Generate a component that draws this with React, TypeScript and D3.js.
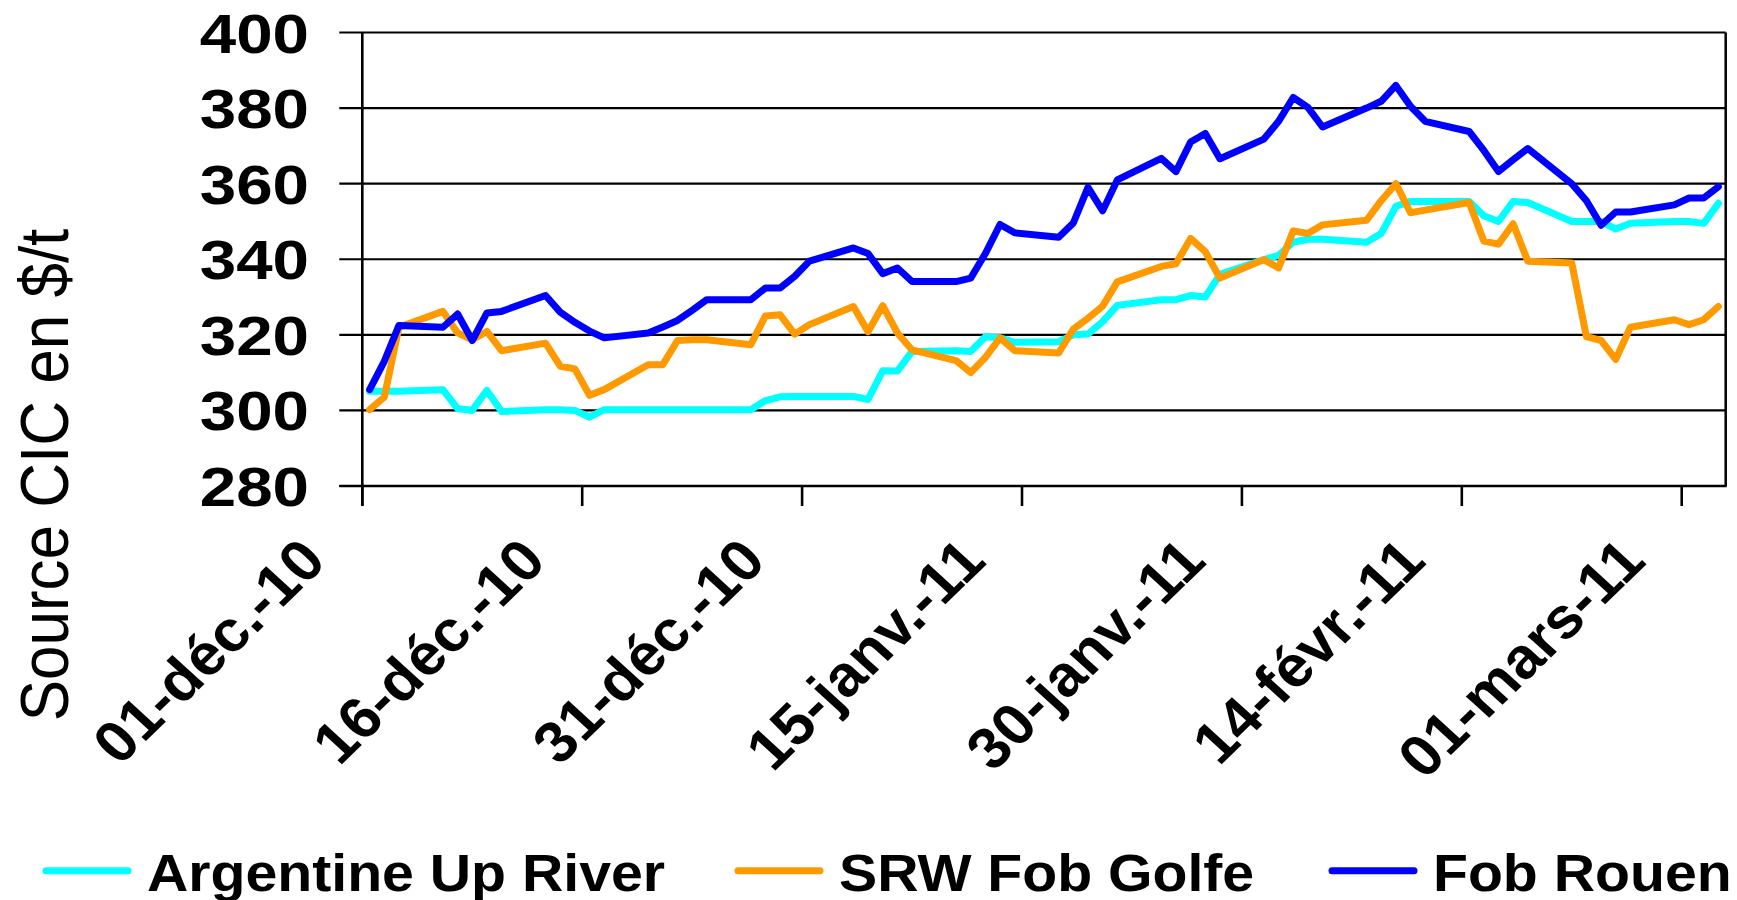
import React from "react";
import * as d3 from "d3";

// Business days (points drawn at the middle of each day)
const dates = [
  "2010-12-01","2010-12-02","2010-12-03","2010-12-06","2010-12-07","2010-12-08","2010-12-09","2010-12-10",
  "2010-12-13","2010-12-14","2010-12-15","2010-12-16","2010-12-17","2010-12-20","2010-12-21","2010-12-22",
  "2010-12-23","2010-12-24","2010-12-27","2010-12-28","2010-12-29","2010-12-30","2010-12-31",
  "2011-01-03","2011-01-04","2011-01-05","2011-01-06","2011-01-07","2011-01-10","2011-01-11","2011-01-12",
  "2011-01-13","2011-01-14","2011-01-17","2011-01-18","2011-01-19","2011-01-20","2011-01-21","2011-01-24",
  "2011-01-25","2011-01-26","2011-01-27","2011-01-28","2011-01-31",
  "2011-02-01","2011-02-02","2011-02-03","2011-02-04","2011-02-07","2011-02-08","2011-02-09","2011-02-10",
  "2011-02-11","2011-02-14","2011-02-15","2011-02-16","2011-02-17","2011-02-18","2011-02-21","2011-02-22",
  "2011-02-23","2011-02-24","2011-02-25","2011-02-28",
  "2011-03-01","2011-03-02","2011-03-03",
];

const argentine = [
  305.1, 305.1, 305.1, 305.5, 300.5, 300.0, 305.3, 299.7,
  300.2, 300.2, 300.0, 298.2, 300.2, 300.2, 300.2, 300.2,
  300.2, 300.2, 300.2, 302.6, 303.6, 303.7, 303.7,
  303.7, 302.9, 310.5, 310.4, 315.6, 315.8, 315.6, 319.5,
  319.2, 318.0, 318.2, 320.0, 320.2, 323.5, 327.8, 329.3,
  329.3, 330.4, 330.0, 336.0, 339.9,
  341.0, 344.5, 345.3, 345.3, 344.5, 346.8, 354.0, 355.3,
  355.3, 355.3, 351.5, 350.0, 355.3, 355.0, 350.0, 350.0,
  350.0, 348.0, 349.5, 350.0,
  350.0, 349.5, 354.8,
];

const srw = [
  300.2, 303.5, 322.0, 326.2, 320.5, 318.7, 320.9, 315.8,
  317.8, 311.7, 311.0, 304.0, 305.5, 312.1, 312.1, 318.5,
  318.7, 318.7, 317.4, 325.0, 325.3, 320.2, 322.7,
  327.5, 320.8, 327.7, 320.5, 316.0, 313.2, 310.0, 314.0,
  319.2, 315.8, 315.2, 321.5, 324.4, 327.6, 334.0, 338.1,
  338.8, 345.5, 342.0, 335.0, 339.9,
  337.7, 347.5, 346.8, 349.1, 350.3, 355.5, 360.0, 352.3,
  353.0, 355.0, 344.8, 344.0, 349.4, 339.5, 339.0, 319.5,
  318.5, 313.5, 322.0, 324.0,
  322.7, 324.0, 327.5,
];

const rouen = [
  305.5, 313.0, 322.5, 322.0, 325.5, 318.5, 325.8, 326.2,
  330.4, 326.0, 323.3, 321.0, 319.2, 320.5, 322.1, 323.8,
  326.5, 329.3, 329.3, 332.4, 332.4, 335.5, 339.5,
  343.0, 341.5, 336.2, 337.7, 334.1, 334.1, 335.0, 341.5,
  349.2, 347.0, 345.8, 349.6, 359.0, 352.8, 361.0, 366.7,
  363.2, 371.0, 373.3, 366.6, 371.8,
  376.5, 382.8, 380.2, 375.0, 380.0, 381.8, 386.0, 380.5,
  376.5, 373.8, 368.8, 363.2, 366.3, 369.3, 360.0, 355.5,
  349.0, 352.5, 352.5, 354.4,
  356.2, 356.2, 359.2,
];

const yTicks = [280, 300, 320, 340, 360, 380, 400];
const xTickDates = ["2010-12-01", "2010-12-16", "2010-12-31", "2011-01-15", "2011-01-30", "2011-02-14", "2011-03-01"];
const xTickLabels = ["01-déc.-10", "16-déc.-10", "31-déc.-10", "15-janv.-11", "30-janv.-11", "14-févr.-11", "01-mars-11"];
const seriesNames = ["Argentine Up River", "SRW Fob Golfe", "Fob Rouen"];
const seriesColors = ["#00FFFF", "#FF9900", "#0000FF"];
const seriesValues = [argentine, srw, rouen];
const axisStart = "2010-12-01";
const axisEnd = "2011-03-04";
const yTitle = "Source CIC en $/t";

export default function App() {
  const W = 1737, H = 900;
  const left = 362.3, right = 1725.7, top = 32.5, bottom = 486;
  const parse = d3.utcParse("%Y-%m-%d");
  const x = d3.scaleUtc().domain([parse(axisStart)!, parse(axisEnd)!]).range([left, right]);
  const y = d3.scaleLinear().domain([280, 400]).range([bottom, top]);
  const mid = (s: string) => d3.utcHour.offset(parse(s)!, 12);
  const line = d3.line<number>()
    .x((_, i) => x(mid(dates[i])))
    .y((v) => y(v));

  const font = "'Liberation Sans', Arial, sans-serif";
  const legendStarts = [46, 738, 1332];

  return (
    <svg width={W} height={H} style={{ position: "absolute", left: 0, top: 0, display: "block", background: "#fff" }}>
      <rect x={0} y={0} width={W} height={H} fill="#fff" />
      {/* gridlines */}
      {yTicks.map((t) => (
        <line key={"g" + t} x1={left - 23} x2={right} y1={y(t)} y2={y(t)} stroke="#000" strokeWidth={2.2} />
      ))}
      {/* right border */}
      <line x1={right} x2={right} y1={top} y2={bottom} stroke="#000" strokeWidth={2.5} />
      {/* y axis */}
      <line x1={left} x2={left} y1={top} y2={bottom + 20} stroke="#000" strokeWidth={2.6} />
      {/* x axis */}
      <line x1={left - 23} x2={right + 1} y1={bottom} y2={bottom} stroke="#000" strokeWidth={2.6} />
      {xTickDates.map((d) => (
        <line key={"xt" + d} x1={x(parse(d)!)} x2={x(parse(d)!)} y1={bottom} y2={bottom + 20} stroke="#000" strokeWidth={2.6} />
      ))}
      {/* y tick labels */}
      {yTicks.map((t) => (
        <text key={"yl" + t} transform={`translate(309, ${y(t) + 20}) scale(1.19,1)`} textAnchor="end"
          fontFamily={font} fontWeight="bold" fontSize={55} fill="#000">{t}</text>
      ))}
      {/* x tick labels */}
      {xTickDates.map((d, i) => (
        <text key={"xl" + d} transform={`translate(${x(parse(d)!) - 34}, 563) scale(1.06,1) rotate(-46)`}
          textAnchor="end" fontFamily={font} fontWeight="bold" fontSize={58} fill="#000">{xTickLabels[i]}</text>
      ))}
      {/* y title */}
      <text transform={`translate(68, 475) scale(1.1,1) rotate(-90)`} textAnchor="middle"
        fontFamily={font} fontSize={62} fill="#000">{yTitle}</text>
      {/* series */}
      {seriesValues.map((vals, k) => (
        <path key={"s" + k} d={line(vals) || ""} fill="none" stroke={seriesColors[k]} strokeWidth={7}
          strokeLinejoin="round" strokeLinecap="round" />
      ))}
      {/* legend */}
      {seriesNames.map((n, k) => (
        <g key={"lg" + k}>
          <line x1={legendStarts[k]} x2={legendStarts[k] + 82} y1={870.7} y2={870.7} stroke={seriesColors[k]}
            strokeWidth={7} strokeLinecap="round" />
          <text transform={`translate(${legendStarts[k] + 101}, 891) scale(1.1,1)`} fontFamily={font}
            fontWeight="bold" fontSize={52} fill="#000">{n}</text>
        </g>
      ))}
    </svg>
  );
}
